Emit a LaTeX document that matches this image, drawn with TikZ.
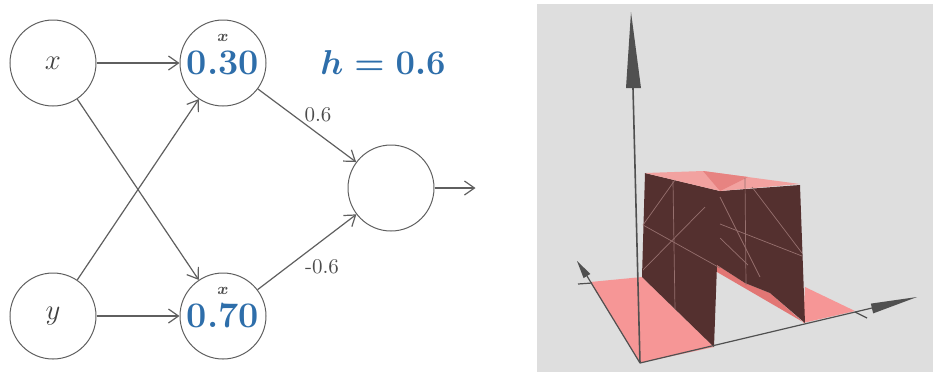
\documentclass[tikz,border=0pt]{standalone}
\usetikzlibrary{positioning,arrows.meta}

\definecolor{netblue}{RGB}{46,110,170}
\definecolor{edgegray}{RGB}{95,95,95}
\definecolor{panelgray}{RGB}{222,222,222}
\definecolor{floorpink}{RGB}{246,150,150}
\definecolor{toppink}{RGB}{242,162,160}
\definecolor{shadepink}{RGB}{226,118,116}
\definecolor{wallbrown}{RGB}{84,48,47}
\definecolor{meshline}{RGB}{150,112,110}
\definecolor{axisgray}{RGB}{80,80,80}

\begin{document}
\begin{tikzpicture}[x=0.5pt,y=-0.5pt,
    neuron/.style={circle,draw=edgegray,line width=0.5pt,minimum size=43pt,inner sep=0pt},
    inlabel/.style={font=\fontsize{15}{18}\selectfont,text=black!75},
    outval/.style={font=\fontsize{18}{22}\selectfont\bfseries\boldmath,text=netblue},
    tagx/.style={font=\fontsize{8}{9}\selectfont\boldmath,text=black!70,inner sep=0pt},
    wlabel/.style={font=\fontsize{10.5}{12}\selectfont,text=black!70,inner sep=0pt},
    link/.style={-{Straight Barb[length=5pt,width=7pt]},draw=edgegray,line width=0.6pt},
    mesh/.style={draw=meshline,line width=0.35pt},
    axis/.style={draw=axisgray,line width=0.6pt}]

\useasboundingbox (0,0) rectangle (933,372);

% Text Node: inputs
\node[neuron,inlabel] (inx) at (53,63) {$x$};
\node[neuron,inlabel] (iny) at (53,316) {$y$};
% hidden units
\node[neuron,outval] (hid1) at (223,63) {0.30};
\node[neuron,outval] (hid2) at (223,316) {0.70};
\node[tagx] (tag1) at ([yshift=12.75pt]hid1.center) {$x$};
\node[tagx] (tag2) at ([yshift=12.5pt]hid2.center) {$x$};
% output unit
\node[neuron] (out) at (391,188) {};
\coordinate[right=20.5pt of out] (outend);
\node[outval] (hval) at (383,62) {$h=0.6$};

% Straight Lines
\draw[link] (inx) -- (hid1);
\draw[link] (inx) -- (hid2);
\draw[link] (iny) -- (hid1);
\draw[link] (iny) -- (hid2);
\draw[link] (hid1) -- (out);
\draw[link] (hid2) -- (out);
\draw[link] (out) -- (outend);
% weights
\node[wlabel] (w1) at (318,115) {0.6};
\node[wlabel] (w2) at (322,267) {-0.6};

%Shape: panel
\fill[panelgray] (537,4) rectangle (933,372);
%Shape: floor strips
\fill[floorpink] (640,363) -- (590,282) -- (642,277) -- (714,347) -- cycle;
\fill[floorpink] (803,323) -- (855,311) -- (805,287) -- cycle;
%Shape: inner slope
\fill[shadepink] (717,265) -- (745,283) -- (770,293) -- (803,322) -- (717,272) -- cycle;
%Shape: wall
\fill[wallbrown] (645,173) -- (720,191) -- (800,185) -- (805,323) -- (770,293)
    -- (745,283) -- (717,265) -- (714,347) -- (642,277) -- cycle;
%Shape: top face
\fill[toppink] (645,173) -- (703,171) -- (800,184) -- (720,191) -- cycle;
\fill[shadepink!70!toppink] (703,171) -- (748,177) -- (720,191) -- cycle;
% mesh
\draw[mesh] (673,181) -- (675,309);
\draw[mesh] (643,225) -- (675,180);
\draw[mesh] (643,225) -- (720,268);
\draw[mesh] (705,207) -- (643,270);
\draw[mesh] (745,178) -- (746,285);
\draw[mesh] (720,197) -- (760,277);
\draw[mesh] (720,224) -- (802,256);
\draw[mesh] (752,187) -- (802,253);
\draw[mesh] (720,238) -- (748,265);

% axes
\draw[axis,line width=0.8pt] (640,363) -- (633,88);
\fill[axisgray] (631,12) -- (641,88) -- (626,88) -- cycle;
\draw[axis] (640,363) -- (872,308);
\fill[axisgray] (917,297) -- (870.8,303.6) -- (873.2,313.4) -- cycle;
\draw[axis] (855,312) -- (867,318);
\draw[axis] (640,363) -- (587,276);
\fill[axisgray] (577,261) -- (590.4,273.9) -- (583.6,278.1) -- cycle;
\draw[axis] (578,284) -- (592,283);
\end{tikzpicture}
\end{document}
